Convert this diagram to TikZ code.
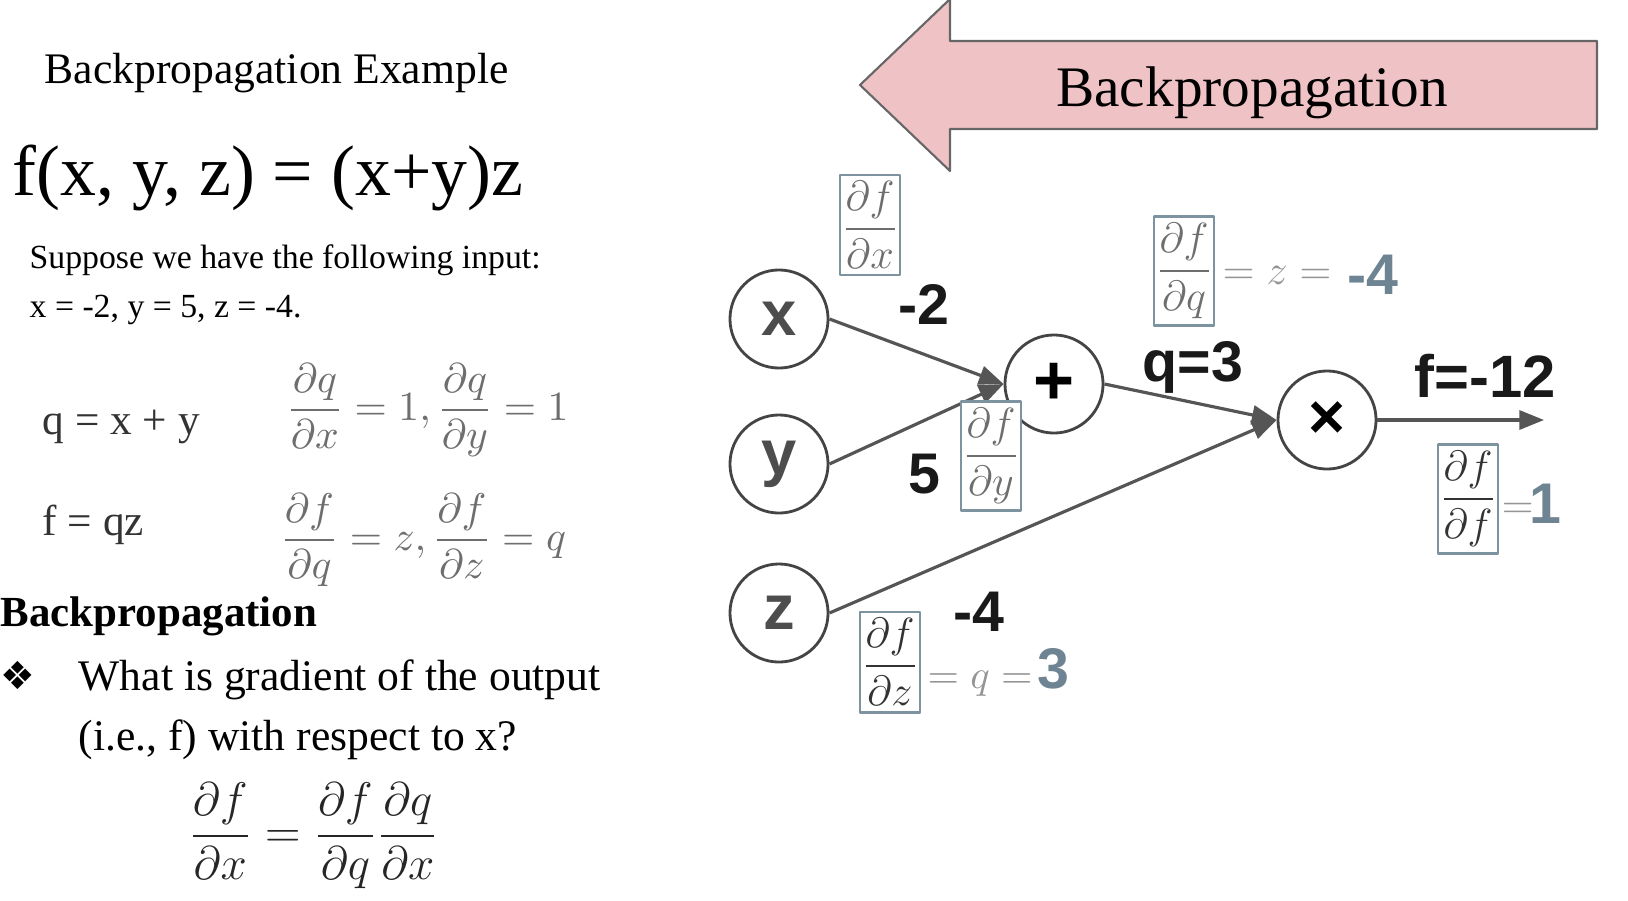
\documentclass[tikz,border=0pt]{standalone}
\usepackage{fix-cm}
\usepackage{amsmath}
\usepackage[no-math]{fontspec}
\setmainfont{Liberation Serif}
\setsansfont{Liberation Sans}
\newfontfamily\dingfont{DejaVu Sans}
\usepackage{xcolor}
\usepackage{tikz}
\usetikzlibrary{arrows.meta,positioning}

\definecolor{arrowpink}{HTML}{EFC2C6}
\definecolor{arrowedge}{HTML}{666666}
\definecolor{ringgray}{HTML}{444444}
\definecolor{edgegray}{HTML}{555555}
\definecolor{labelgray}{HTML}{4D4D4D}
\definecolor{boxblue}{HTML}{7D939F}
\definecolor{numblue}{HTML}{6E8492}
\definecolor{fracgray}{HTML}{6E6E6E}
\definecolor{eqgray}{HTML}{959595}

\newcommand{\fsz}[1]{\fontsize{#1}{#1}\selectfont}

\begin{document}
\begin{tikzpicture}[x=0.01cm,y=-0.01cm,>={Triangle[length=7pt,width=5.4pt]},line join=round,
  txt/.style={inner sep=0pt,anchor=base west},
  gate/.style={circle,draw=ringgray,line width=0.8pt,minimum size=0.98cm,inner sep=0pt,
    fill=white,text=labelgray,font=\sffamily\bfseries\fsz{18}},
  edge/.style={->,draw=edgegray,line width=0.9pt},
  val/.style={inner sep=0pt,anchor=base,font=\sffamily\bfseries\fsz{16.3},text=black!90},
  gradbox/.style={draw=boxblue,line width=0.6pt,fill=white,inner xsep=0.4pt,inner ysep=2pt,
    text=fracgray,font=\fsz{12}},
  eqtxt/.style={inner sep=0pt,anchor=base west,text=eqgray,font=\fsz{12}},
  gval/.style={inner sep=0pt,anchor=base west,text=numblue,font=\sffamily\bfseries\fsz{16.3}}]
  \useasboundingbox (0,0) rectangle (1628,900);

  % left column
  \node[txt,font=\fsz{12.4}] (title) at (44,83) {Backpropagation Example};
  \node[txt,font=\fsz{20.4}] (func) at (12,195) {f(x, y, z) = (x+y)z};
  \node[txt,font=\fsz{9.6}] (suppose) at (29,268) {Suppose we have the following input:};
  \node[txt,font=\fsz{9.6}] (inputs) at (29,317) {x = -2, y = 5, z = -4.};
  \node[txt,font=\fsz{12.3},text=black!80] (qdef) at (42,434) {q = x + y};
  \node[anchor=west,inner sep=0pt,text=fracgray,font=\fsz{11.8}] (qgrad) at (286,410)
    {$\displaystyle\frac{\partial q}{\partial x}=1,\frac{\partial q}{\partial y}=1$};
  \node[txt,font=\fsz{12.3},text=black!80] (fdef) at (42,535) {f = qz};
  \node[anchor=west,inner sep=0pt,text=fracgray,font=\fsz{11.8}] (fgrad) at (280,540)
    {$\displaystyle\frac{\partial f}{\partial q}=z,\frac{\partial f}{\partial z}=q$};
  \node[txt,font=\bfseries\fsz{12.2}] (bphead) at (0,626) {Backpropagation};
  \node[anchor=west,inner sep=0pt,font=\dingfont\fsz{11}] (bullet) at (0,675) {❖};
  \node[txt,font=\fsz{12.4}] (question) at (78,690) {What is gradient of the output};
  \node[txt,font=\fsz{12.4}] (question2) at (78,750) {(i.e., f) with respect to x?};
  \node[anchor=west,inner sep=0pt,text=black!85,font=\fsz{13.4}] (chain) at (188,836)
    {$\displaystyle\frac{\partial f}{\partial x}=\frac{\partial f}{\partial q}\frac{\partial q}{\partial x}$};

  % backward arrow
  \coordinate (A0) at (860,85);
  \coordinate (A1) at (950,-1);
  \coordinate (A2) at (950,41);
  \coordinate (A3) at (1597,41);
  \coordinate (A4) at (1597,129);
  \coordinate (A5) at (950,129);
  \coordinate (A6) at (950,171);
  \draw[draw=arrowedge,fill=arrowpink,line width=0.6pt] (A0) -- (A1) -- (A2) -- (A3) -- (A4) -- (A5) -- (A6) -- cycle;
  \node[inner sep=0pt,anchor=base,font=\fsz{16.3}] (bptext) at (1252,106) {Backpropagation};

  % graph
  \node[gate] (xin) at (779,319) {x};
  \node[gate] (yin) at (779,464) {y};
  \node[gate] (zin) at (779,613) {z};
  \node[gate,text=black,font=\sffamily\bfseries\fsz{20}] (add) at (1054,384) {+};
  \node[gate,text=black,font=\sffamily\bfseries\fsz{18}] (mul) at (1327,420) {×};
  \coordinate (out) at (1544,420);
  \draw[edge] (xin.east) -- (add.west);
  \draw[edge] (yin.east) -- (add.west);
  \draw[edge] (add.east) -- (mul.west);
  \draw[edge] (zin.east) -- (mul.west);
  \draw[edge] (mul.east) -- (out);

  % forward values
  \node[val] (xval) at (924,324) {-2};
  \node[val] (yval) at (924,493) {5};
  \node[val] (zval) at (979,631) {-4};
  \node[val] (qval) at (1193,381) {q=3};
  \node[val,font=\sffamily\bfseries\fsz{17}] (fval) at (1485,397) {f=-12};

  % gradients
  \node[gradbox] (dfdx) at (870,225) {$\displaystyle\frac{\partial f}{\partial x}$};
  \node[gradbox] (dfdy) at (991,456) {$\displaystyle\frac{\partial f}{\partial y}$};
  \node[gradbox] (dfdq) at (1184,271) {$\displaystyle\frac{\partial f}{\partial q}$};
  \node[gradbox,text=black!80] (dfdz) at (890,662) {$\displaystyle\frac{\partial f}{\partial z}$};
  \node[gradbox,text=black!80] (dfdf) at (1468,499) {$\displaystyle\frac{\partial f}{\partial f}$};
  \node[eqtxt] (dfdqeq) at (1222,284) {$=z=$};
  \node[gval] (dfdqval) at (1347,294) {-4};
  \node[eqtxt,font=\fsz{11.5}] (dfdzeq) at (927,688) {$=q=$};
  \node[gval] (dfdzval) at (1037,688) {3};
  \node[eqtxt] (dfdfeq) at (1501,518) {$=$};
  \node[gval] (dfdfval) at (1529,523) {1};
\end{tikzpicture}
\end{document}
